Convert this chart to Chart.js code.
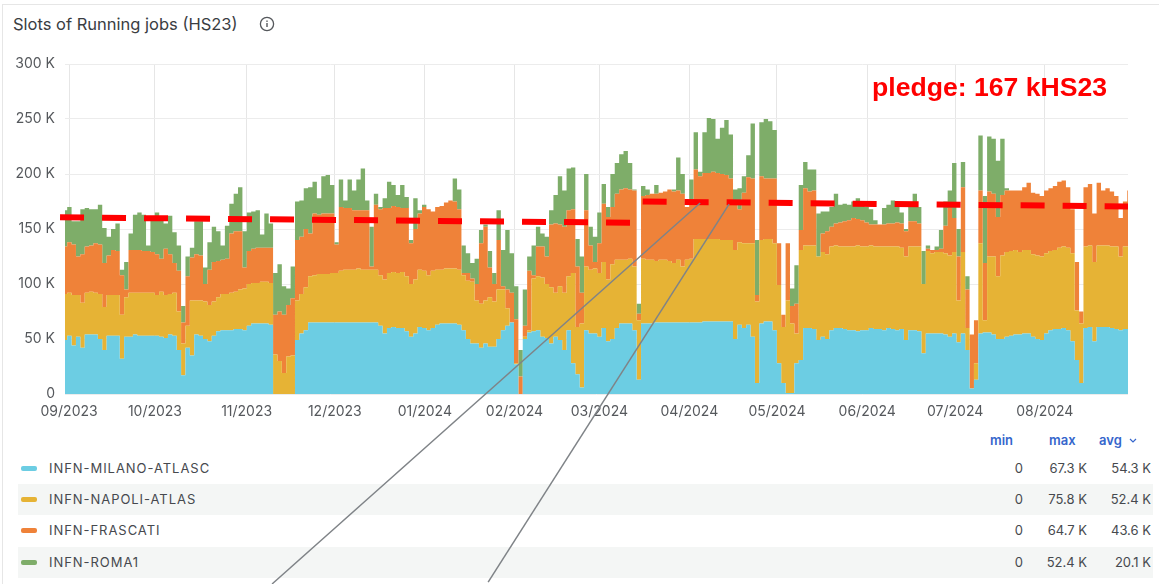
<!DOCTYPE html>
<html>
<head>
<meta charset="utf-8">
<title>Slots of Running jobs (HS23)</title>
<script src="https://cdn.jsdelivr.net/npm/chart.js@4"></script>
<style>
  html, body { margin: 0; padding: 0; background: #fff; width: 1159px; height: 584px; overflow: hidden; font-family: Inter, sans-serif; }
  #frame { position: absolute; left: 2px; top: 4px; right: 0; bottom: 0; border-left: 1px solid #e6e6e6; border-top: 1px solid #e6e6e6; }
  #title { position: absolute; left: 13px; top: 14px; font-size: 16.5px; line-height: 20px; color: #3a3d42; white-space: nowrap; }
  #info { position: absolute; left: 259px; top: 16px; }
  #pledge { position: absolute; left: 872px; top: 72px; font: bold 26.6px/30px "Liberation Sans", sans-serif; color: #ff0000; white-space: nowrap; z-index: 3; }
  #chart { position: absolute; left: 0; top: 0; z-index: 2; }
  .band { position: absolute; left: 18px; width: 1135px; height: 31px; background: #f4f6f5; }
  .swatch { position: absolute; left: 21px; width: 16px; height: 5px; border-radius: 2px; }
  .txt { position: absolute; font-size: 13px; line-height: 16px; color: #46494e; white-space: nowrap; }
  .head { position: absolute; font-size: 13px; line-height: 16px; color: #3566cc; font-weight: 600; white-space: nowrap; }
</style>
</head>
<body>
<div id="frame"></div>
<div id="title">Slots of Running jobs (HS23)</div>
<svg id="info" width="16" height="16" viewBox="0 0 16 16">
  <circle cx="8" cy="8" r="6.6" fill="none" stroke="#55585c" stroke-width="1.3"/>
  <rect x="7.3" y="7" width="1.4" height="4" fill="#55585c"/>
  <rect x="7.3" y="4.5" width="1.4" height="1.4" fill="#55585c"/>
</svg>
<div id="pledge">pledge: 167 kHS23</div>
<div id="legend"></div>
<canvas id="chart" width="1159" height="584"></canvas>

<script>
// one sample every 1.5 days, values in thousands of slots
const sampleStep = 1.5;

const milano = [
  49,53,44,52,42,54,54,54,50,40,53,53,53,32,52,52,54,53,53,53,
  53,53,52,51,54,53,40,17,42,35,54,53,50,48,53,57,58,58,58,59,
  59,58,62,64,64,64,64,63,0,0,0,0,0,49,55,58,65,65,65,65,
  65,65,65,65,65,65,65,65,65,65,65,65,62,55,60,61,60,60,57,52,
  55,61,60,58,60,63,64,64,64,64,63,58,50,46,46,42,46,43,43,50,
  58,62,65,27,0,50,56,57,58,52,51,46,52,49,40,58,28,18,6,58,
  55,55,52,60,48,50,60,64,64,64,58,13,64,64,64,65,65,65,65,65,
  65,65,65,65,65,65,66,66,66,66,66,66,66,50,63,60,63,52,10,64,
  66,66,58,28,10,1,1,28,31,60,60,59,49,52,50,58,60,60,59,58,
  58,57,58,58,60,59,59,58,60,59,58,59,49,58,58,57,37,55,55,55,
  55,54,52,55,47,55,40,5,13,55,56,56,54,50,50,52,53,54,54,55,
  55,52,50,49,55,58,59,59,60,58,48,31,10,60,61,48,61,61,61,60,
  59,58,59,59
];
const napoli = [
  42,39,46,38,41,38,39,38,41,39,37,37,37,40,36,40,38,39,39,39,
  39,37,41,39,37,39,35,29,20,50,31,32,34,33,31,31,33,33,34,34,
  36,38,38,37,37,38,38,38,36,30,19,34,35,36,36,39,42,43,44,44,
  44,45,45,47,48,48,48,49,48,48,48,48,46,49,50,50,50,51,50,48,
  49,52,52,50,52,50,49,50,50,50,50,50,53,56,39,40,39,45,41,45,
  37,16,0,1,0,2,2,48,49,54,49,51,40,49,52,49,82,43,58,58,
  58,59,58,60,56,68,62,58,58,59,58,54,59,58,58,56,57,57,56,54,
  57,51,57,58,76,76,75,75,75,75,74,74,74,81,75,77,74,85,74,76,
  75,75,79,71,51,84,63,27,100,75,75,76,76,77,77,76,75,74,75,76,
  76,78,76,76,75,75,75,76,74,75,76,74,76,76,76,77,63,75,73,74,
  74,74,74,74,38,74,20,0,15,82,11,69,71,57,76,77,77,77,75,76,
  76,75,76,76,73,72,72,74,74,75,80,45,54,74,74,72,74,74,74,74,
  75,67,75,75
];
const frascati = [
  43,46,46,35,44,42,42,45,45,40,36,41,40,36,7,39,39,39,38,38,
  37,37,30,42,36,27,37,19,45,39,42,41,16,32,36,33,31,32,54,55,
  53,19,30,31,32,31,31,32,36,45,53,47,52,55,52,53,39,56,54,55,
  55,54,26,58,56,56,54,53,54,54,3,59,60,65,59,60,60,58,62,37,
  46,51,58,60,54,57,58,60,62,61,55,2,7,3,15,55,67,27,16,45,
  3,17,27,40,16,10,54,3,27,28,25,57,63,56,60,60,58,55,28,51,
  22,6,27,53,57,52,60,64,65,63,69,6,57,59,60,61,61,62,65,65,
  63,66,48,54,63,57,60,60,61,60,60,59,56,41,30,46,60,59,6,58,
  55,55,59,38,11,52,16,27,18,52,49,50,0,17,21,18,20,22,23,24,
  26,24,24,22,19,20,20,20,21,21,22,22,23,23,23,21,0,2,3,2,
  3,25,43,31,40,59,35,49,39,48,52,59,57,54,55,56,55,54,56,57,
  61,56,56,55,57,57,58,60,60,55,40,44,11,54,56,44,57,50,52,50,
  46,35,41,51
];
const roma = [
  33,32,21,32,41,35,33,31,36,32,17,19,25,5,25,15,32,34,33,5,
  31,38,35,23,35,28,23,15,18,9,30,31,15,25,32,27,13,30,27,34,
  40,33,35,34,34,12,31,22,38,43,26,15,29,35,33,37,42,29,15,34,
  35,26,2,25,7,26,18,28,38,9,36,10,2,9,24,19,11,21,10,3,
  28,3,2,0,0,0,0,0,0,21,18,25,18,14,23,12,2,15,10,27,
  33,54,36,30,24,33,13,27,18,12,18,13,26,44,33,38,38,25,33,33,
  17,23,28,18,9,30,28,32,34,24,1,9,9,5,0,8,0,0,0,2,
  30,18,0,18,34,4,37,50,48,31,42,50,40,14,19,15,20,50,50,49,
  54,52,44,0,0,0,16,35,41,24,20,19,39,20,18,18,27,16,16,14,
  15,19,14,14,14,4,0,15,17,21,16,10,2,15,25,15,30,3,0,3,
  17,22,16,50,25,23,12,0,0,50,61,50,50,51,51,2,0,0,0,0,
  0,0,0,0,0,0,0,0,0,0,0,0,0,0,0,0,0,0,0,0,0,0,0,0
];

const monthLabels = ['09/2023','10/2023','11/2023','12/2023','01/2024','02/2024','03/2024','04/2024','05/2024','06/2024','07/2024','08/2024'];
const monthDays = [1.4,30.8,62.2,92.4,123.2,153.9,183,213.8,243.8,274.7,304.8,335.5];

// hand drawn annotations on the original: pledge dashes and the two grey pointer lines
const pledgeBefore = [{x:-1.7,y:160.6},{x:193.5,y:155.7}];
const pledgeAfter = [{x:197.8,y:175},{x:364,y:170.5}];
const pointerA = [{x:217.5,y:173.6},{x:70.9,y:-172.7}];
const pointerB = [{x:227.4,y:172.7},{x:144.9,y:-171}];

const seriesNames = ['INFN-MILANO-ATLASC','INFN-NAPOLI-ATLAS','INFN-FRASCATI','INFN-ROMA1'];
const seriesColors = ['#6ccde3','#e6b335','#ef8239','#7ead69'];
const minVals = ['0','0','0','0'];
const maxVals = ['67.3 K','75.8 K','64.7 K','52.4 K'];
const avgVals = ['54.3 K','52.4 K','43.6 K','20.1 K'];

function toPoints(values) {
    return values.map((v, i) => ({ x: i * sampleStep, y: v }));
}

function areaDataset(values, idx) {
    return {
        label: seriesNames[idx],
        data: toPoints(values),
        stack: 'slots',
        order: 2,
        stepped: 'middle',
        pointRadius: 0,
        borderWidth: 0,
        backgroundColor: seriesColors[idx],
        fill: idx === 0 ? 'origin' : '-1'
    };
}

function overlayDataset(points, id, color, width, dash, order) {
    return {
        label: id,
        data: points,
        stack: id,
        order: order,
        pointRadius: 0,
        borderColor: color,
        borderWidth: width,
        borderDash: dash,
        fill: false,
        clip: false
    };
}

function buildLegend() {
    const legend = document.getElementById('legend');
    let html = '';
    html += '<div class="head" style="left:990px;top:432px">min</div>';
    html += '<div class="head" style="left:1049px;top:432px">max</div>';
    html += '<div class="head" style="left:1099px;top:432px">avg</div>';
    html += '<svg style="position:absolute;left:1129px;top:438px" width="8" height="6"><path d="M1 1 L4 4 L7 1" fill="none" stroke="#3566cc" stroke-width="1.2"/></svg>';
    const rowTops = [453, 484, 515, 547];
    seriesNames.forEach((name, i) => {
        const top = rowTops[i];
        if (i % 2 === 1) html += `<div class="band" style="top:${top}px"></div>`;
        html += `<div class="swatch" style="top:${top + 13}px;background:${seriesColors[i]}"></div>`;
        html += `<div class="txt" style="left:49px;top:${top + 7}px;letter-spacing:.95px">${name}</div>`;
        html += `<div class="txt" style="right:136px;top:${top + 7}px">${minVals[i]}</div>`;
        html += `<div class="txt" style="right:72px;top:${top + 7}px">${maxVals[i]}</div>`;
        html += `<div class="txt" style="right:8px;top:${top + 7}px">${avgVals[i]}</div>`;
    });
    legend.innerHTML = html;
}

buildLegend();

new Chart(document.getElementById('chart').getContext('2d'), {
    type: 'line',
    data: {
        datasets: [
            areaDataset(milano, 0),
            areaDataset(napoli, 1),
            areaDataset(frascati, 2),
            areaDataset(roma, 3),
            overlayDataset(pledgeBefore, 'pledgeBefore', '#ff0000', 6, [24, 18], 1),
            overlayDataset(pledgeAfter, 'pledgeAfter', '#ff0000', 6, [24, 18], 1),
            overlayDataset(pointerA, 'pointerA', '#7f8387', 1.5, [], 0),
            overlayDataset(pointerB, 'pointerB', '#7f8387', 1.5, [], 0)
        ]
    },
    options: {
        responsive: false,
        animation: false,
        layout: { padding: { left: 0, right: 31, top: 64, bottom: 160 } },
        plugins: { legend: { display: false }, tooltip: { enabled: false } },
        elements: { line: { tension: 0 } },
        scales: {
            x: {
                type: 'linear',
                min: 0,
                max: 364,
                afterFit: scale => { scale.height = 30; },
                afterBuildTicks: scale => { scale.ticks = monthDays.map(d => ({ value: d })); },
                grid: { color: '#e6e6e6', drawTicks: false },
                border: { display: false },
                ticks: {
                    autoSkip: false,
                    maxRotation: 0,
                    padding: 9,
                    color: '#55585c',
                    font: { family: 'Inter', size: 14 },
                    callback: (value, index) => monthLabels[index]
                }
            },
            y: {
                stacked: true,
                min: 0,
                max: 300,
                afterFit: scale => { scale.width = 65; },
                grid: { color: '#ececec', drawTicks: false },
                border: { display: false },
                ticks: {
                    stepSize: 50,
                    padding: 10,
                    color: '#55585c',
                    font: { family: 'Inter', size: 14 },
                    callback: value => value === 0 ? '0' : value + ' K'
                }
            }
        }
    }
});
</script>
</body>
</html>
